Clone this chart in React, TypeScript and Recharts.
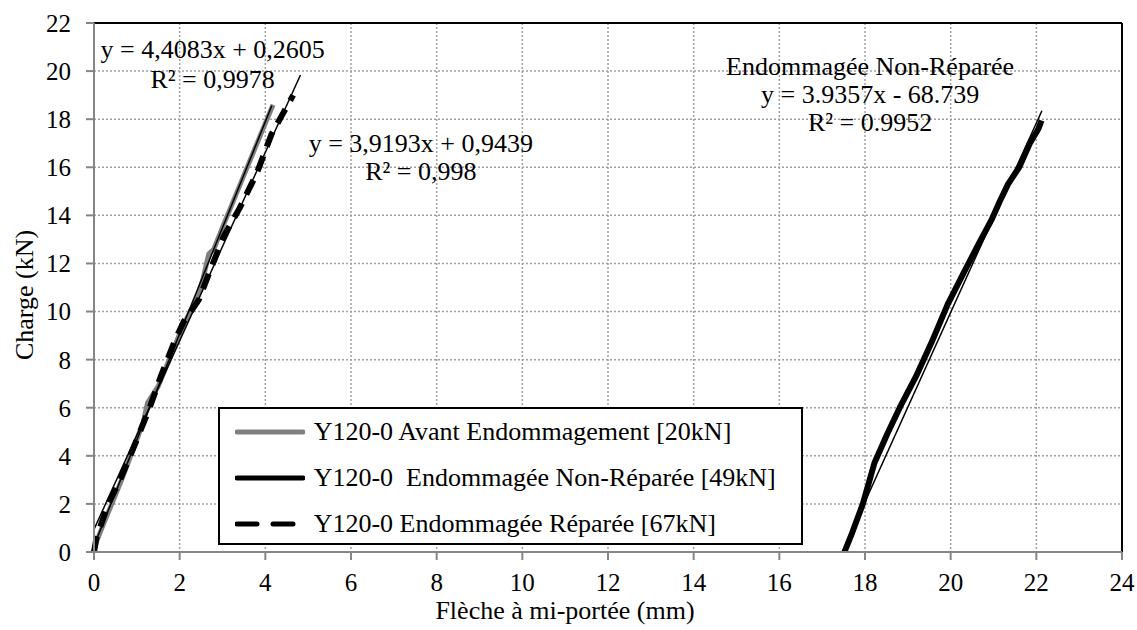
import {
  CartesianGrid,
  Legend,
  Line,
  LineChart,
  ReferenceDot,
  ReferenceLine,
  XAxis,
  YAxis,
} from "recharts"

type Pt = { x: number; y: number }

const FONT = "'Liberation Serif', 'Times New Roman', serif"

const xTicks = [0, 2, 4, 6, 8, 10, 12, 14, 16, 18, 20, 22, 24]
const yTicks = [0, 2, 4, 6, 8, 10, 12, 14, 16, 18, 20, 22]

// Y120-0 Avant Endommagement [20kN]
const avantX = [0, 0.05, 0.3, 0.6, 0.9, 1.15, 1.25, 1.5, 1.8, 2.1, 2.4, 2.55, 2.68, 2.8, 3.0, 3.3, 3.6, 3.9, 4.18]
const avantY = [0, 0.4, 1.5, 2.8, 4.2, 5.4, 6.2, 6.9, 8.2, 9.5, 10.5, 11.4, 12.4, 12.6, 13.5, 14.8, 16.1, 17.4, 18.6]

// Y120-0 Endommagée Réparée [67kN]
const repareeX = [0, 0.06, 0.33, 0.61, 0.96, 1.3, 1.58, 1.89, 2.1, 2.28, 2.45, 2.71, 3.02, 3.4, 3.8, 4.15, 4.4, 4.65]
const repareeY = [0, 0.6, 2.0, 3.0, 4.5, 6.0, 7.4, 8.8, 9.6, 10.05, 10.5, 11.7, 13.1, 14.3, 15.75, 17.4, 18.2, 19.0]

// Y120-0 Endommagée Non-Réparée [49kN]
const nonRepX = [17.52, 17.7, 17.95, 18.22, 18.53, 18.81, 19.19, 19.55, 19.93, 20.3, 20.65, 20.95, 21.15, 21.34, 21.6, 21.85, 22.05, 22.12]
const nonRepY = [0, 0.8, 2.0, 3.7, 4.95, 6.0, 7.3, 8.7, 10.3, 11.6, 12.8, 13.8, 14.6, 15.3, 16.0, 17.0, 17.6, 17.95]

// linear trendlines (end points)
const trendAvantX = [0, 4.15]
const trendAvantY = [0.26, 18.56]
const trendRepX = [0, 4.82]
const trendRepY = [0.94, 19.84]
const trendNonRepX = [17.47, 22.13]
const trendNonRepY = [0, 18.35]

const zip = (xs: number[], ys: number[]): Pt[] => xs.map((x, i) => ({ x, y: ys[i] }))

const legendItems = [
  { name: "Y120-0 Avant Endommagement [20kN]", color: "#808080", dash: undefined },
  { name: "Y120-0  Endommagée Non-Réparée [49kN]", color: "#000000", dash: undefined },
  { name: "Y120-0 Endommagée Réparée [67kN]", color: "#000000", dash: "20 16" },
]

const equations = [
  { x: 2.77, y: 20.53, gap: 30, lines: ["y = 4,4083x + 0,2605", "R² = 0,9978"] },
  { x: 7.63, y: 16.65, gap: 28, lines: ["y = 3,9193x + 0,9439", "R² = 0,998"] },
  { x: 18.12, y: 19.84, gap: 28, lines: ["Endommagée Non-Réparée", "y = 3.9357x - 68.739", "R² = 0.9952"] },
]

const eqLabel = (lines: string[], gap: number) => (props: any) => {
  const { x, y } = props.viewBox
  return (
    <text x={x} y={y} textAnchor="middle" fontFamily={FONT} fontSize={26} fill="#000">
      {lines.map((l, i) => (
        <tspan key={i} x={x} dy={i === 0 ? 0 : gap}>
          {l}
        </tspan>
      ))}
    </text>
  )
}

function LegendBox() {
  return (
    <div
      style={{
        boxSizing: "border-box",
        width: 585,
        height: 138,
        border: "2px solid #000",
        background: "#fff",
        fontFamily: FONT,
        fontSize: 26,
        color: "#000",
      }}
    >
      {legendItems.map((it) => (
        <div key={it.name} style={{ height: 46, display: "flex", alignItems: "center", paddingLeft: 15 }}>
          <svg width={70} height={10} style={{ marginRight: 9 }}>
            <line x1={2} y1={5} x2={68} y2={5} stroke={it.color} strokeWidth={5} strokeDasharray={it.dash} strokeLinecap="round" />
          </svg>
          <span style={{ whiteSpace: "pre", lineHeight: "26px" }}>{it.name}</span>
        </div>
      ))}
    </div>
  )
}

export default function App() {
  const axisStyle = { stroke: "#868686", strokeWidth: 2 }
  return (
    <div style={{ position: "absolute", left: 0, top: 0, background: "#fff" }}>
      <LineChart width={1137} height={630} margin={{ top: 23, right: 15, bottom: 8, left: 0 }}>
        <CartesianGrid stroke="#a0a0a0" strokeDasharray="2 2" strokeWidth={1.5} />
        <XAxis
          type="number"
          dataKey="x"
          domain={[0, 24]}
          ticks={xTicks}
          interval={0}
          height={70}
          axisLine={axisStyle}
          tickLine={axisStyle}
          tickSize={8}
          tickMargin={13}
          tick={{ fill: "#000", fontSize: 25, fontFamily: FONT }}
          label={{
            value: "Flèche à mi-portée (mm)",
            position: "insideBottom",
            offset: 3,
            dx: -43,
            fill: "#000",
            fontSize: 26,
            fontFamily: FONT,
          }}
        />
        <YAxis
          type="number"
          domain={[0, 22]}
          ticks={yTicks}
          interval={0}
          width={94}
          axisLine={axisStyle}
          tickLine={axisStyle}
          tickSize={8}
          tickMargin={15}
          tick={{ fill: "#000", fontSize: 25, fontFamily: FONT }}
          label={(props: any) => {
            const cx = props.viewBox.x + 24
            const cy = 295
            return (
              <text
                x={cx}
                y={cy}
                transform={`rotate(-90 ${cx} ${cy})`}
                textAnchor="middle"
                dominantBaseline="central"
                fontFamily={FONT}
                fontSize={26}
                fill="#000"
              >
                Charge (kN)
              </text>
            )
          }}
        />
        <ReferenceLine y={22} stroke="#000" strokeWidth={2} />
        <ReferenceLine x={24} stroke="#000" strokeWidth={2} />

        <Line data={zip(avantX, avantY)} dataKey="y" stroke="#808080" strokeWidth={5} dot={false} isAnimationActive={false} strokeLinejoin="round" />
        <Line data={zip(repareeX, repareeY)} dataKey="y" stroke="#000" strokeWidth={6} strokeDasharray="16 10" dot={false} isAnimationActive={false} strokeLinejoin="round" />
        <Line data={zip(nonRepX, nonRepY)} dataKey="y" stroke="#000" strokeWidth={6} dot={false} isAnimationActive={false} strokeLinejoin="round" />
        <Line data={zip(trendAvantX, trendAvantY)} dataKey="y" stroke="#000" strokeWidth={1.5} dot={false} isAnimationActive={false} />
        <Line data={zip(trendRepX, trendRepY)} dataKey="y" stroke="#000" strokeWidth={1.5} dot={false} isAnimationActive={false} />
        <Line data={zip(trendNonRepX, trendNonRepY)} dataKey="y" stroke="#000" strokeWidth={1.5} dot={false} isAnimationActive={false} />

        {equations.map((e) => (
          <ReferenceDot key={e.lines[0]} x={e.x} y={e.y} r={0} fill="none" stroke="none" label={eqLabel(e.lines, e.gap)} />
        ))}

        <Legend
          layout="vertical"
          align="center"
          verticalAlign="middle"
          content={() => <LegendBox />}
          wrapperStyle={{ left: 217.7, top: 407.3, width: 585, height: 138 }}
        />
      </LineChart>
    </div>
  )
}
